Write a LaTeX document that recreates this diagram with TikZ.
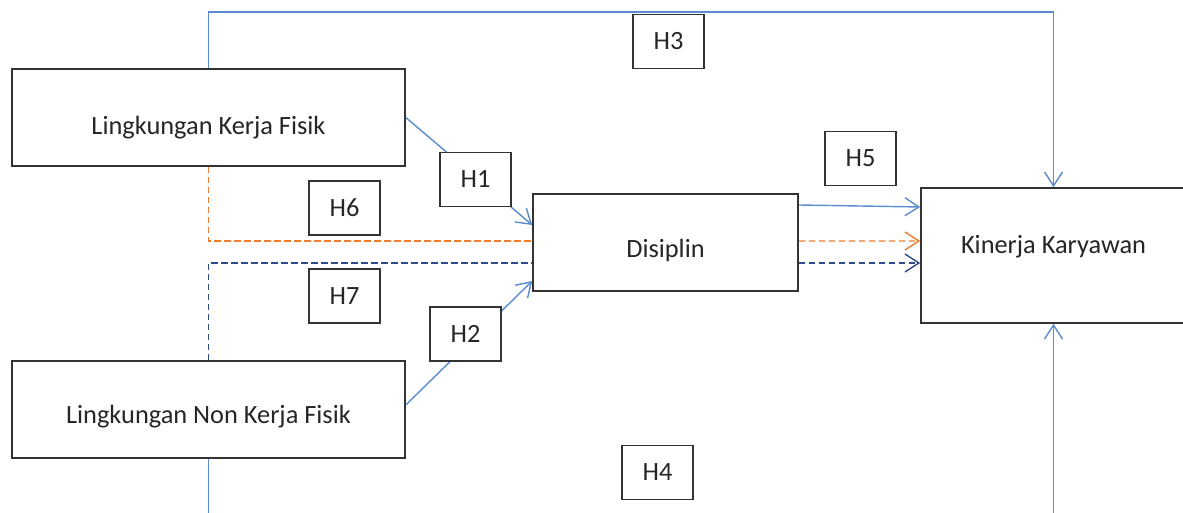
\documentclass[tikz,border=0pt]{standalone}
\usepackage{fontspec}
\setmainfont{Carlito}
\usetikzlibrary{arrows.meta, positioning, calc}

% text set a little off the middle of its box
\newcommand{\nudge}[2]{\raisebox{#1}[\height][\depth]{#2}}

\begin{document}
\begin{tikzpicture}[
    every node/.style={font=\fontsize{15}{18}\selectfont, text=black!85},
    varbox/.style={draw=boxline, line width=0.9pt, fill=white, minimum height=1.94cm},
    hbox/.style={draw=boxline, line width=0.9pt, fill=white,
                 minimum width=1.42cm, minimum height=1.08cm},
    link/.style={line width=0.8pt, -{Straight Barb[length=0.28cm, width=0.36cm]}},
    dashlink/.style={line width=0.8pt, dash pattern=on 0.13cm off 0.07cm},
]

\definecolor{c1}{HTML}{5B8BD0}   % direct paths
\definecolor{c2}{HTML}{ED7D31}   % via Disiplin, physical
\definecolor{c3}{HTML}{2F4B8C}   % via Disiplin, non-physical
\definecolor{boxline}{HTML}{333333}

\clip (0, 0) rectangle (23.66, 10.26);

% ---------------------------------------------------------------- variables
\node[varbox, minimum width=7.86cm] (lkf) at (4.17, 7.91)
    {\nudge{-0.20cm}{Lingkungan Kerja Fisik}};
\node[varbox, minimum width=7.86cm] (lnkf) at (4.17, 2.07)
    {\nudge{-0.14cm}{Lingkungan Non Kerja Fisik}};
\node[varbox, minimum width=5.30cm] (dis) at (13.31, 5.41)
    {\nudge{-0.16cm}{Disiplin}};
\node[varbox, minimum width=5.30cm, minimum height=2.70cm] (kin) at (21.07, 5.15)
    {\nudge{0.18cm}{Kinerja Karyawan}};

% ---------------------------------------------------------------- paths
\coordinate (top) at (0, 10.02);
\coordinate (bottom) at (0, -0.6);

% H3 over the top, H4 round the bottom
\draw[link, c1] (lkf.north) -- (lkf.north |- top) -| (kin.north);
\draw[link, c1] (lnkf.south) -- (lnkf.south |- bottom) -| (kin.south);

% H1, H2 into Disiplin, H5 out of it
\draw[link, c1] (lkf.east) -- ([yshift=0.35cm]dis.west);
\draw[link, c1] ([yshift=0.09cm]lnkf.east) -- ([yshift=-0.77cm]dis.west);
\draw[link, c1] ([yshift=0.75cm]dis.east) -- ([yshift=0.97cm]kin.west);

% H6 and H7, mediated by Disiplin
\draw[dashlink, c2] (lkf.south) |- ([yshift=0.03cm]dis.west);
\draw[dashlink, link, c2] ([yshift=0.03cm]dis.east) -- ([yshift=0.29cm]kin.west);
\draw[dashlink, c3] (lnkf.north) |- ([yshift=-0.41cm]dis.west);
\draw[dashlink, link, c3] ([yshift=-0.41cm]dis.east) -- ([yshift=-0.15cm]kin.west);

% ---------------------------------------------------------------- hypotheses
\node[hbox] (h1) at (9.51, 6.67) {H1};
\node[hbox] (h2) at (9.31, 3.58) {H2};
\node[hbox] (h3) at (13.37, 9.43) {H3};
\node[hbox] (h4) at (13.15, 0.81) {H4};
\node[hbox] (h5) at (17.21, 7.09) {H5};
\node[hbox] (h6) at (6.89, 6.10) {H6};
\node[hbox] (h7) at (6.89, 4.34) {H7};

\end{tikzpicture}
\end{document}
